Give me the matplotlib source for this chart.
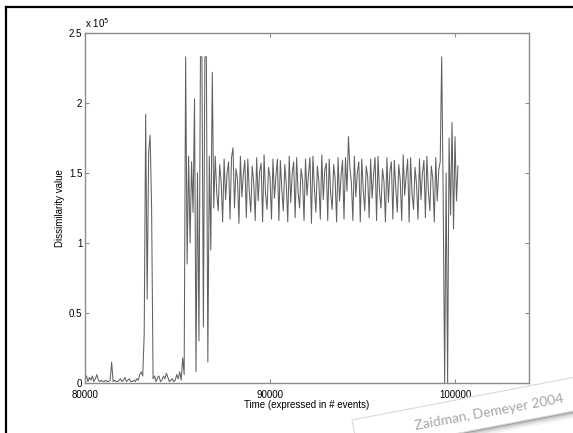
import matplotlib
matplotlib.use('Agg')
import matplotlib.pyplot as plt
from matplotlib.patches import Polygon
import numpy as np

plt.rcParams['font.family'] = ['Liberation Sans', 'DejaVu Sans']

# sampling of the event trace
t_first = 80000
t_step = 80

# dissimilarity values, in units of 10^5
quiet_start = [0.02, 0.05, 0.01, 0.04, 0.02, 0.05, 0.01, 0.03, 0.06, 0.02,
               0.01, 0.02, 0.01, 0.01, 0.02, 0.01, 0.01, 0.02, 0.15, 0.01,
               0.02, 0.01, 0.01, 0.02, 0.03, 0.01, 0.02, 0.04, 0.01, 0.02,
               0.03, 0.01, 0.01, 0.02, 0.01, 0.03, 0.02, 0.06, 0.08, 0.05]
burst_1 = [0.35, 1.92, 0.60, 1.65, 1.77, 1.25, 0.03]
quiet_mid = [0.05, 0.01, 0.04, 0.05, 0.01, 0.02, 0.05, 0.03, 0.07, 0.04,
             0.01, 0.02, 0.03, 0.01, 0.02, 0.06, 0.03, 0.08, 0.02, 0.18, 0.06]
burst_2 = [2.33, 0.85, 1.62, 1.00, 1.58, 1.22, 2.03, 0.08, 1.50, 0.30,
           2.33, 2.33, 0.40, 2.33, 2.33, 0.15, 1.62, 0.95, 2.22, 1.25]
steady = [1.62, 1.36, 1.23, 1.56, 1.44, 1.15, 1.60, 1.31, 1.50, 1.58, 1.17,
          1.61, 1.68, 1.25, 1.53, 1.46, 1.14, 1.62, 1.33, 1.49, 1.59, 1.18,
          1.60, 1.37, 1.22, 1.55, 1.43, 1.16, 1.61, 1.30, 1.51, 1.57, 1.15,
          1.63, 1.35, 1.24, 1.54, 1.47, 1.17, 1.60, 1.32, 1.48, 1.60, 1.16,
          1.59, 1.38, 1.23, 1.56, 1.42, 1.15, 1.62, 1.29, 1.50, 1.58, 1.18,
          1.61, 1.36, 1.25, 1.53, 1.45, 1.16, 1.60, 1.34, 1.49, 1.61, 1.14,
          1.62, 1.39, 1.22, 1.55, 1.44, 1.17, 1.63, 1.31, 1.52, 1.57, 1.16,
          1.60, 1.35, 1.24, 1.56, 1.46, 1.15, 1.61, 1.30, 1.48, 1.59, 1.17,
          1.61, 1.37, 1.76, 1.54, 1.43, 1.16, 1.62, 1.33, 1.50, 1.58, 1.15,
          1.60, 1.38, 1.23, 1.55, 1.47, 1.18, 1.60, 1.32, 1.49, 1.61, 1.16,
          1.62, 1.36, 1.25, 1.53, 1.44, 1.15, 1.61, 1.29, 1.51, 1.58, 1.17,
          1.59, 1.39, 1.22, 1.56, 1.45, 1.16, 1.63, 1.34, 1.48, 1.60, 1.15,
          1.61, 1.35, 1.24, 1.54, 1.42, 1.17, 1.60, 1.31, 1.50, 1.59, 1.18,
          1.62, 1.37, 1.23, 1.55, 1.46, 1.15, 1.61, 1.30, 1.52, 1.58]
tail = [2.33, 1.35, 0.00, 1.50, 0.00, 1.75, 1.20, 1.86, 1.10, 1.76, 1.30, 1.55]

x_ticks = [80000, 90000, 100000]
y_ticks = [0, 0.5, 1, 1.5, 2, 2.5]
y_tick_labels = ['0', '0.5', '1', '1.5', '2', '2.5']

dissim = np.array(quiet_start + burst_1 + quiet_mid + burst_2 + steady + tail)
t = t_first + t_step * np.arange(len(dissim))

W, H = 573, 433
fig = plt.figure(figsize=(W / 100, H / 100), dpi=100)
ax = fig.add_axes([85 / W, 50 / H, 444 / W, 350 / H])
ax.plot(t, dissim, color='0.38', lw=0.75)
ax.set_xlim(80000, 104000)
ax.set_ylim(0, 2.5)
ax.set_xticks(x_ticks)
ax.set_xticklabels([str(v) for v in x_ticks])
ax.set_yticks(y_ticks)
ax.set_yticklabels(y_tick_labels)
ax.tick_params(direction='in', length=3, width=0.8, color='0.55',
               labelsize=7, top=True, right=True, pad=2)
ax.tick_params(axis='x', pad=5)
for s in ax.spines.values():
    s.set_color('0.55')
    s.set_linewidth(1.0)
ax.set_xlabel('Time (expressed in # events)', fontsize=7, labelpad=0)
ax.set_ylabel('Dissimilarity value', fontsize=7, labelpad=3)
ax.text(0, 1.008, r'x 10$^5$', transform=ax.transAxes, fontsize=7, va='bottom')

# overlay in pixel coordinates: frame and the citation strip
ov = fig.add_axes([0, 0, 1, 1], zorder=5)
ov.set_xlim(0, W)
ov.set_ylim(H, 0)
ov.axis('off')
ov.plot([6, 6], [7, H], color='k', lw=1.6)
ov.plot([6, W], [7, 7], color='k', lw=1.6)

ang = np.deg2rad(10.9)
u = np.array([np.cos(ang), -np.sin(ang)])
n = np.array([np.sin(ang), np.cos(ang)])
a = np.array([352.0, 420.0])
width = 33
for k, alpha in [(7, 0.05), (5, 0.08), (3, 0.12), (1.5, 0.18)]:
    off = n * k + u * 6
    shadow = [a + off + u * 60, a + off + u * 270,
              a + off + u * 270 + n * width, a + off + u * 60 + n * width]
    ov.add_patch(Polygon(shadow, closed=True, facecolor='k', edgecolor='none',
                         alpha=alpha))
strip = [a, a + u * 270, a + u * 270 + n * width, a + n * width]
ov.add_patch(Polygon(strip, closed=True, facecolor='white', edgecolor='0.85',
                     lw=0.8))
ov.text(489, 412, 'Zaidman, Demeyer 2004', rotation=10.5, ha='center',
        va='center', fontsize=10, color='0.65',
        family=['Lato', 'DejaVu Sans'], rotation_mode='anchor')

fig.savefig('out.png', dpi=100)
